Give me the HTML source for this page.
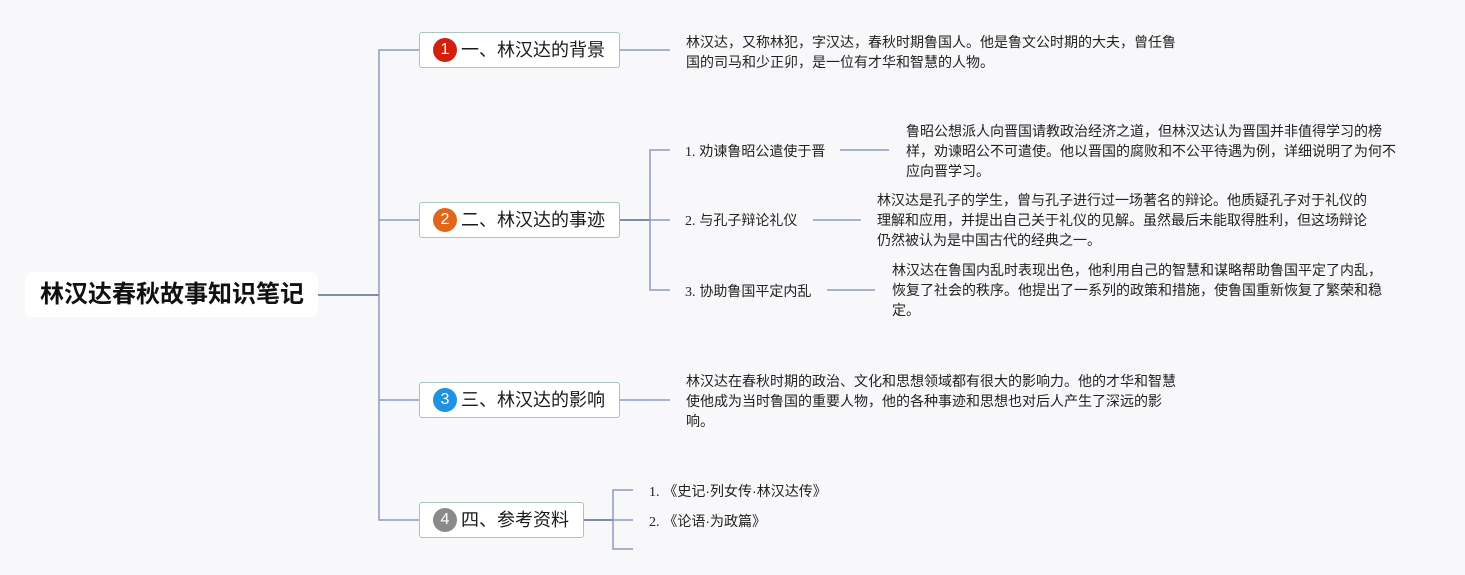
<!DOCTYPE html>
<html><head><meta charset="utf-8">
<style>
html,body{margin:0;padding:0;}
body{width:1465px;height:575px;background:#f8f8fa;position:relative;overflow:hidden;font-family:"Liberation Sans","Noto Sans CJK SC",sans-serif;}
.abs{position:absolute;}
.root{left:25px;top:272px;width:293px;height:45px;background:#fff;border-radius:8px;}
.root span{position:absolute;left:15px;top:0;line-height:45px;font-size:24px;font-weight:bold;color:#111;white-space:nowrap;}
.br{position:absolute;left:419px;width:199px;height:34px;background:#fff;border:1px solid #a9c6bd;border-radius:3px;box-sizing:content-box;}
.br .ic{position:absolute;left:13px;top:5px;width:24px;height:24px;border-radius:50%;color:#fff;font-size:16px;line-height:24px;text-align:center;font-family:"Liberation Sans",sans-serif;}
.br .t{position:absolute;left:41px;top:0;line-height:34px;font-size:18px;color:#1a1a1a;white-space:nowrap;}
.d{position:absolute;font-size:14px;line-height:20px;color:#222;white-space:nowrap;}
.num{font-family:"Liberation Serif",serif;}
</style></head><body>
<svg class="abs" style="left:0;top:0" width="1465" height="575">
 <g fill="none" stroke-width="1.5">
  <line x1="318" y1="295" x2="379" y2="295" stroke="#5a6899"/>
  <path d="M419 50 H379 V520 H419" stroke="#8d99bf"/>
  <line x1="379" y1="220" x2="419" y2="220" stroke="#8d99bf"/>
  <line x1="379" y1="400" x2="419" y2="400" stroke="#8d99bf"/>
  <line x1="620" y1="50" x2="670" y2="50" stroke="#8d99bf"/>
  <line x1="620" y1="400" x2="670" y2="400" stroke="#8d99bf"/>
  <line x1="620" y1="220" x2="650" y2="220" stroke="#566798"/>
  <path d="M670 150 H650 V290 H670" stroke="#8d99bf"/>
  <line x1="650" y1="220" x2="670" y2="220" stroke="#8d99bf"/>
  <line x1="840" y1="150" x2="889" y2="150" stroke="#8d99bf"/>
  <line x1="813" y1="220" x2="861" y2="220" stroke="#8d99bf"/>
  <line x1="827" y1="290" x2="875" y2="290" stroke="#8d99bf"/>
  <line x1="584" y1="520" x2="613" y2="520" stroke="#566798"/>
  <path d="M633 490 H613 V549 H633" stroke="#8d99bf"/>
  <line x1="613" y1="520" x2="633" y2="520" stroke="#8d99bf"/>
 </g>
</svg>

<div class="abs root"><span>林汉达春秋故事知识笔记</span></div>

<div class="br" style="top:32px;"><div class="ic" style="background:#d2200f;">1</div><div class="t">一、林汉达的背景</div></div>
<div class="br" style="top:202px;"><div class="ic" style="background:#e0661b;">2</div><div class="t">二、林汉达的事迹</div></div>
<div class="br" style="top:382px;"><div class="ic" style="background:#1f93df;">3</div><div class="t">三、林汉达的影响</div></div>
<div class="br" style="top:502px;width:163px;"><div class="ic" style="background:#8a8a8a;">4</div><div class="t">四、参考资料</div></div>

<div class="d" style="left:686px;top:32px;">林汉达，又称林犯，字汉达，春秋时期鲁国人。他是鲁文公时期的大夫，曾任鲁<br>国的司马和少正卯，是一位有才华和智慧的人物。</div>

<div class="d" style="left:685px;top:141px;"><span class="num">1.</span> 劝谏鲁昭公遣使于晋</div>
<div class="d" style="left:906px;top:121px;">鲁昭公想派人向晋国请教政治经济之道，但林汉达认为晋国并非值得学习的榜<br>样，劝谏昭公不可遣使。他以晋国的腐败和不公平待遇为例，详细说明了为何不<br>应向晋学习。</div>

<div class="d" style="left:685px;top:210px;"><span class="num">2.</span> 与孔子辩论礼仪</div>
<div class="d" style="left:877px;top:190px;">林汉达是孔子的学生，曾与孔子进行过一场著名的辩论。他质疑孔子对于礼仪的<br>理解和应用，并提出自己关于礼仪的见解。虽然最后未能取得胜利，但这场辩论<br>仍然被认为是中国古代的经典之一。</div>

<div class="d" style="left:685px;top:281px;"><span class="num">3.</span> 协助鲁国平定内乱</div>
<div class="d" style="left:892px;top:260px;">林汉达在鲁国内乱时表现出色，他利用自己的智慧和谋略帮助鲁国平定了内乱，<br>恢复了社会的秩序。他提出了一系列的政策和措施，使鲁国重新恢复了繁荣和稳<br>定。</div>

<div class="d" style="left:686px;top:371px;">林汉达在春秋时期的政治、文化和思想领域都有很大的影响力。他的才华和智慧<br>使他成为当时鲁国的重要人物，他的各种事迹和思想也对后人产生了深远的影<br>响。</div>

<div class="d" style="left:649px;top:481px;"><span class="num">1.</span> 《史记·列女传·林汉达传》</div>
<div class="d" style="left:649px;top:511px;"><span class="num">2.</span> 《论语·为政篇》</div>
</body></html>
